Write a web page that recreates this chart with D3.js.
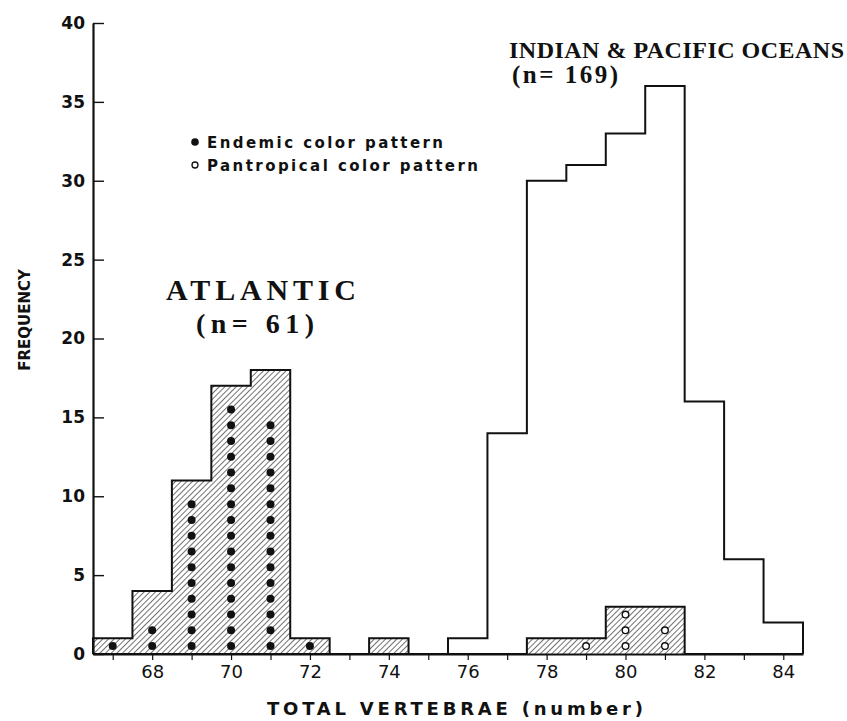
<!DOCTYPE html>
<html>
<head>
<meta charset="utf-8">
<script src="https://cdn.jsdelivr.net/npm/d3@7"></script>
<style>
  body { margin: 0; background: #fff; }
  svg { display: block; }
</style>
</head>
<body>
<div id="chart"></div>
<script>
// Total vertebrae histogram, Atlantic vs Indian & Pacific oceans
const vertebrae = [67, 68, 69, 70, 71, 72, 73, 74, 75, 76, 77, 78, 79, 80, 81, 82, 83, 84];
const atlanticFreq = [1, 4, 11, 17, 18, 1, 0, 1, 0, 0, 0, 1, 1, 3, 3, 0, 0, 0];
const indoPacificFreq = [0, 0, 0, 0, 0, 0, 0, 0, 0, 1, 14, 30, 31, 33, 36, 16, 6, 2];
// dots drawn inside the Atlantic bars
const endemicCounts = [1, 2, 10, 16, 15, 1, 0, 0, 0, 0, 0, 0, 0, 0, 0, 0, 0, 0];
const pantropicalCounts = [0, 0, 0, 0, 0, 0, 0, 0, 0, 0, 0, 0, 1, 3, 2, 0, 0, 0];
const yTicks = [0, 5, 10, 15, 20, 25, 30, 35, 40];

const width = 847, height = 721;
const ink = "#111";

const svg = d3.select("#chart").append("svg")
  .attr("width", width)
  .attr("height", height);

const x = d3.scaleLinear().domain([66.5, 84.5]).range([93, 803]);
const y = d3.scaleLinear().domain([0, 40]).range([654, 23]);

// hatch pattern for the Atlantic bars
const defs = svg.append("defs");
defs.append("pattern")
  .attr("id", "hatch")
  .attr("patternUnits", "userSpaceOnUse")
  .attr("width", 4)
  .attr("height", 4)
  .attr("patternTransform", "rotate(45)")
  .append("line")
  .attr("x1", 0).attr("y1", 0)
  .attr("x2", 0).attr("y2", 4)
  .attr("stroke", ink)
  .attr("stroke-width", 1.2);

function stepPoints(freq) {
  const pts = [[vertebrae[0] - 0.5, 0]];
  freq.forEach((c, i) => {
    pts.push([vertebrae[i] - 0.5, c]);
    pts.push([vertebrae[i] + 0.5, c]);
  });
  pts.push([vertebrae[vertebrae.length - 1] + 0.5, 0]);
  return pts;
}

const line = d3.line().x((d) => x(d[0])).y((d) => y(d[1]));

// hatched fill
svg.append("path")
  .attr("d", line(stepPoints(atlanticFreq)) + "Z")
  .attr("fill", "url(#hatch)")
  .attr("stroke", "none");

// Indian & Pacific outline
svg.append("path")
  .attr("d", line(stepPoints(indoPacificFreq)))
  .attr("fill", "none")
  .attr("stroke", ink)
  .attr("stroke-width", 2);

// Atlantic outline
svg.append("path")
  .attr("d", line(stepPoints(atlanticFreq)))
  .attr("fill", "none")
  .attr("stroke", ink)
  .attr("stroke-width", 2);

// dots: one per specimen, stacked at half units
const endemicDots = [];
const pantropicalDots = [];
vertebrae.forEach((v, i) => {
  d3.range(endemicCounts[i]).forEach((k) => endemicDots.push({ v, k }));
  d3.range(pantropicalCounts[i]).forEach((k) => pantropicalDots.push({ v, k }));
});

svg.append("g").selectAll("circle")
  .data(endemicDots)
  .enter()
  .append("circle")
  .attr("cx", (d) => x(d.v))
  .attr("cy", (d) => y(d.k + 0.5))
  .attr("r", 4)
  .attr("fill", ink);

svg.append("g").selectAll("circle")
  .data(pantropicalDots)
  .enter()
  .append("circle")
  .attr("cx", (d) => x(d.v))
  .attr("cy", (d) => y(d.k + 0.5))
  .attr("r", 3.3)
  .attr("fill", "#fff")
  .attr("stroke", ink)
  .attr("stroke-width", 1.4);

// axes
const xAxis = d3.axisBottom(x)
  .tickValues(vertebrae)
  .tickFormat((d) => (d % 2 === 0 ? d : ""))
  .tickSize(6)
  .tickSizeOuter(0)
  .tickPadding(5);

const gx = svg.append("g")
  .attr("transform", `translate(0,${y(0)})`)
  .call(xAxis);
gx.select(".domain").attr("stroke", ink).attr("stroke-width", 2);
gx.selectAll(".tick line").attr("stroke", ink).attr("stroke-width", 1.2);
gx.selectAll(".tick text")
  .attr("fill", ink)
  .style("font-family", "'DejaVu Sans', sans-serif")
  .style("font-size", "18px");

const yAxis = d3.axisLeft(y)
  .tickValues(yTicks)
  .tickSize(-11)
  .tickSizeOuter(0)
  .tickPadding(8);

const gy = svg.append("g")
  .attr("transform", `translate(${x(66.5)},0)`)
  .call(yAxis);
gy.select(".domain").attr("stroke", ink).attr("stroke-width", 2.2);
gy.selectAll(".tick line").attr("stroke", ink).attr("stroke-width", 1.4);
gy.selectAll(".tick text")
  .attr("fill", ink)
  .style("font-family", "'DejaVu Sans', sans-serif")
  .style("font-weight", "bold")
  .style("font-size", "17px");

// axis titles
svg.append("text")
  .attr("x", 267)
  .attr("y", 715)
  .attr("textLength", 376)
  .attr("lengthAdjust", "spacing")
  .attr("fill", ink)
  .style("font-family", "'DejaVu Sans', sans-serif")
  .style("font-weight", "bold")
  .style("font-size", "18px")
  .text("TOTAL VERTEBRAE (number)");

svg.append("text")
  .attr("transform", "translate(30,320) rotate(-90)")
  .attr("text-anchor", "middle")
  .attr("fill", ink)
  .style("font-family", "'DejaVu Sans', sans-serif")
  .style("font-weight", "bold")
  .style("font-size", "15px")
  .text("FREQUENCY");

// legend
const legend = svg.append("g")
  .style("font-family", "'DejaVu Sans', sans-serif")
  .style("font-weight", "bold")
  .style("font-size", "15px")
  .attr("fill", ink);

legend.append("circle").attr("cx", 195).attr("cy", 142).attr("r", 3.8).attr("fill", ink);
legend.append("text").attr("x", 207).attr("y", 148)
  .attr("textLength", 236).attr("lengthAdjust", "spacing")
  .text("Endemic color pattern");

legend.append("circle").attr("cx", 195).attr("cy", 165).attr("r", 3)
  .attr("fill", "#fff").attr("stroke", ink).attr("stroke-width", 1.3);
legend.append("text").attr("x", 207).attr("y", 171)
  .attr("textLength", 271).attr("lengthAdjust", "spacing")
  .text("Pantropical color pattern");

// group labels
const serif = "'Liberation Serif', 'Times New Roman', serif";

function label(txt, x0, y0, len, size) {
  svg.append("text")
    .attr("x", x0)
    .attr("y", y0)
    .attr("textLength", len)
    .attr("lengthAdjust", "spacing")
    .attr("fill", ink)
    .style("font-family", serif)
    .style("font-weight", "bold")
    .style("font-size", size + "px")
    .text(txt);
}

label("INDIAN & PACIFIC OCEANS", 509, 58, 335, 24);
label("(n= 169)", 512, 83, 106, 25);
label("ATLANTIC", 166, 300, 190, 30);
label("(n= 61)", 196, 333, 118, 28);
</script>
</body>
</html>
